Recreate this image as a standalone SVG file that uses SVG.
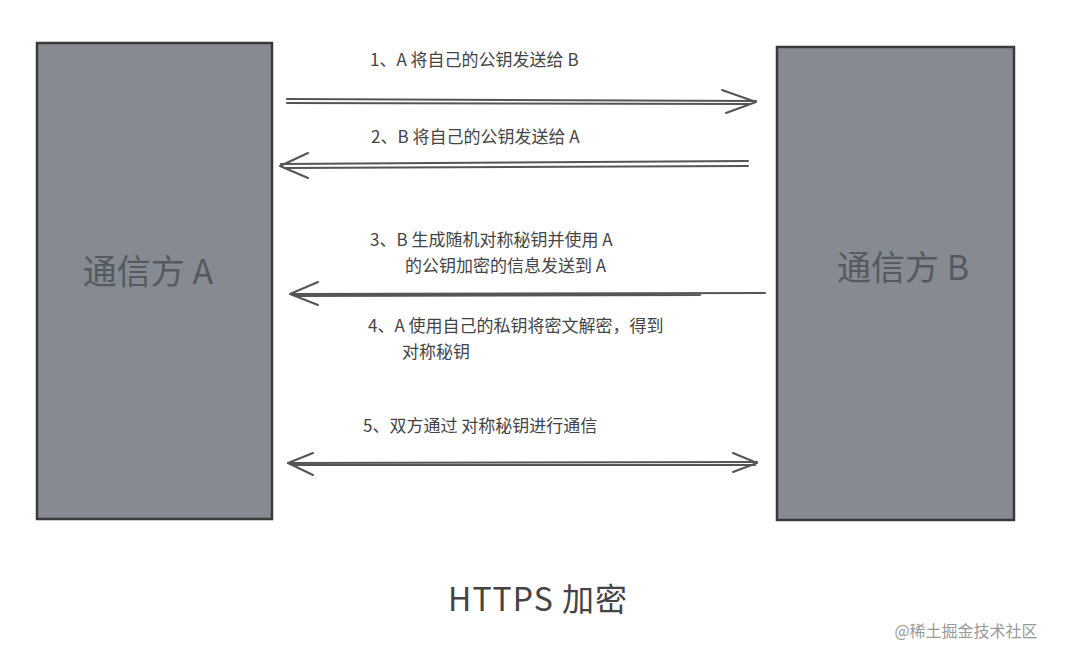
<svg xmlns="http://www.w3.org/2000/svg" width="1067" height="660" viewBox="0 0 1067 660">
<style>
.box{fill:#868b93;stroke:#3a3a3a;stroke-width:2.5}
.bt{font-family:"Noto Sans CJK SC","Noto Sans",sans-serif;font-size:34px;fill:#555a60}
.t{font-family:"Noto Sans CJK SC","Noto Sans",sans-serif;font-size:17px;fill:#444}
.ln{stroke:#555;stroke-width:2;fill:none;stroke-linecap:round}
.hd{stroke:#555;stroke-width:2;fill:none;stroke-linecap:round;stroke-linejoin:round}
</style>
<rect width="1067" height="660" fill="#fff"/>
<g id="nodeA"><rect class="box" x="37" y="43" width="235" height="476"/><text class="bt" x="148" y="284" text-anchor="middle">通信方 A</text></g>
<g id="nodeB"><rect class="box" x="777" y="47" width="237" height="473"/><text class="bt" x="903" y="280" text-anchor="middle">通信方 B</text></g>
<g id="connectors">
<path class="ln" d="M287 99 L756 101 M287 103 L750 104"/>
<path class="hd" d="M722 90 L756 102 L726 113"/>
<path class="ln" d="M748 161 L281 164 M748 166 L285 168"/>
<path class="hd" d="M308 153 L280 166 L308 178"/>
<path class="ln" d="M765 293 L291 294 M700 295 L295 296"/>
<path class="hd" d="M318 282 L290 294 L318 305"/>
<path class="ln" d="M288 463 L757 462 M292 465 L755 465"/>
<path class="hd" d="M313 453 L288 463 L313 475"/>
<path class="hd" d="M733 453 L757 463 L733 472"/>
</g>
<g id="labels">
<text class="t" x="370" y="66">1、A  将自己的公钥发送给  B</text>
<text class="t" x="371" y="143">2、B  将自己的公钥发送给  A</text>
<text class="t" x="370" y="246">3、B  生成随机对称秘钥并使用  A</text>
<text class="t" x="405" y="272">的公钥加密的信息发送到  A</text>
<text class="t" x="368" y="332">4、A  使用自己的私钥将密文解密，得到</text>
<text class="t" x="402" y="358">对称秘钥</text>
<text class="t" x="363" y="432">5、双方通过  对称秘钥进行通信</text>
<text x="538" y="611" text-anchor="middle" font-family="'Noto Sans CJK SC','Noto Sans',sans-serif" font-size="32" fill="#444" letter-spacing="1">HTTPS  加密</text>
<text x="966" y="637" text-anchor="middle" font-family="'Noto Sans CJK SC',sans-serif" font-size="16" fill="#999">@稀土掘金技术社区</text>
</g>
</svg>
